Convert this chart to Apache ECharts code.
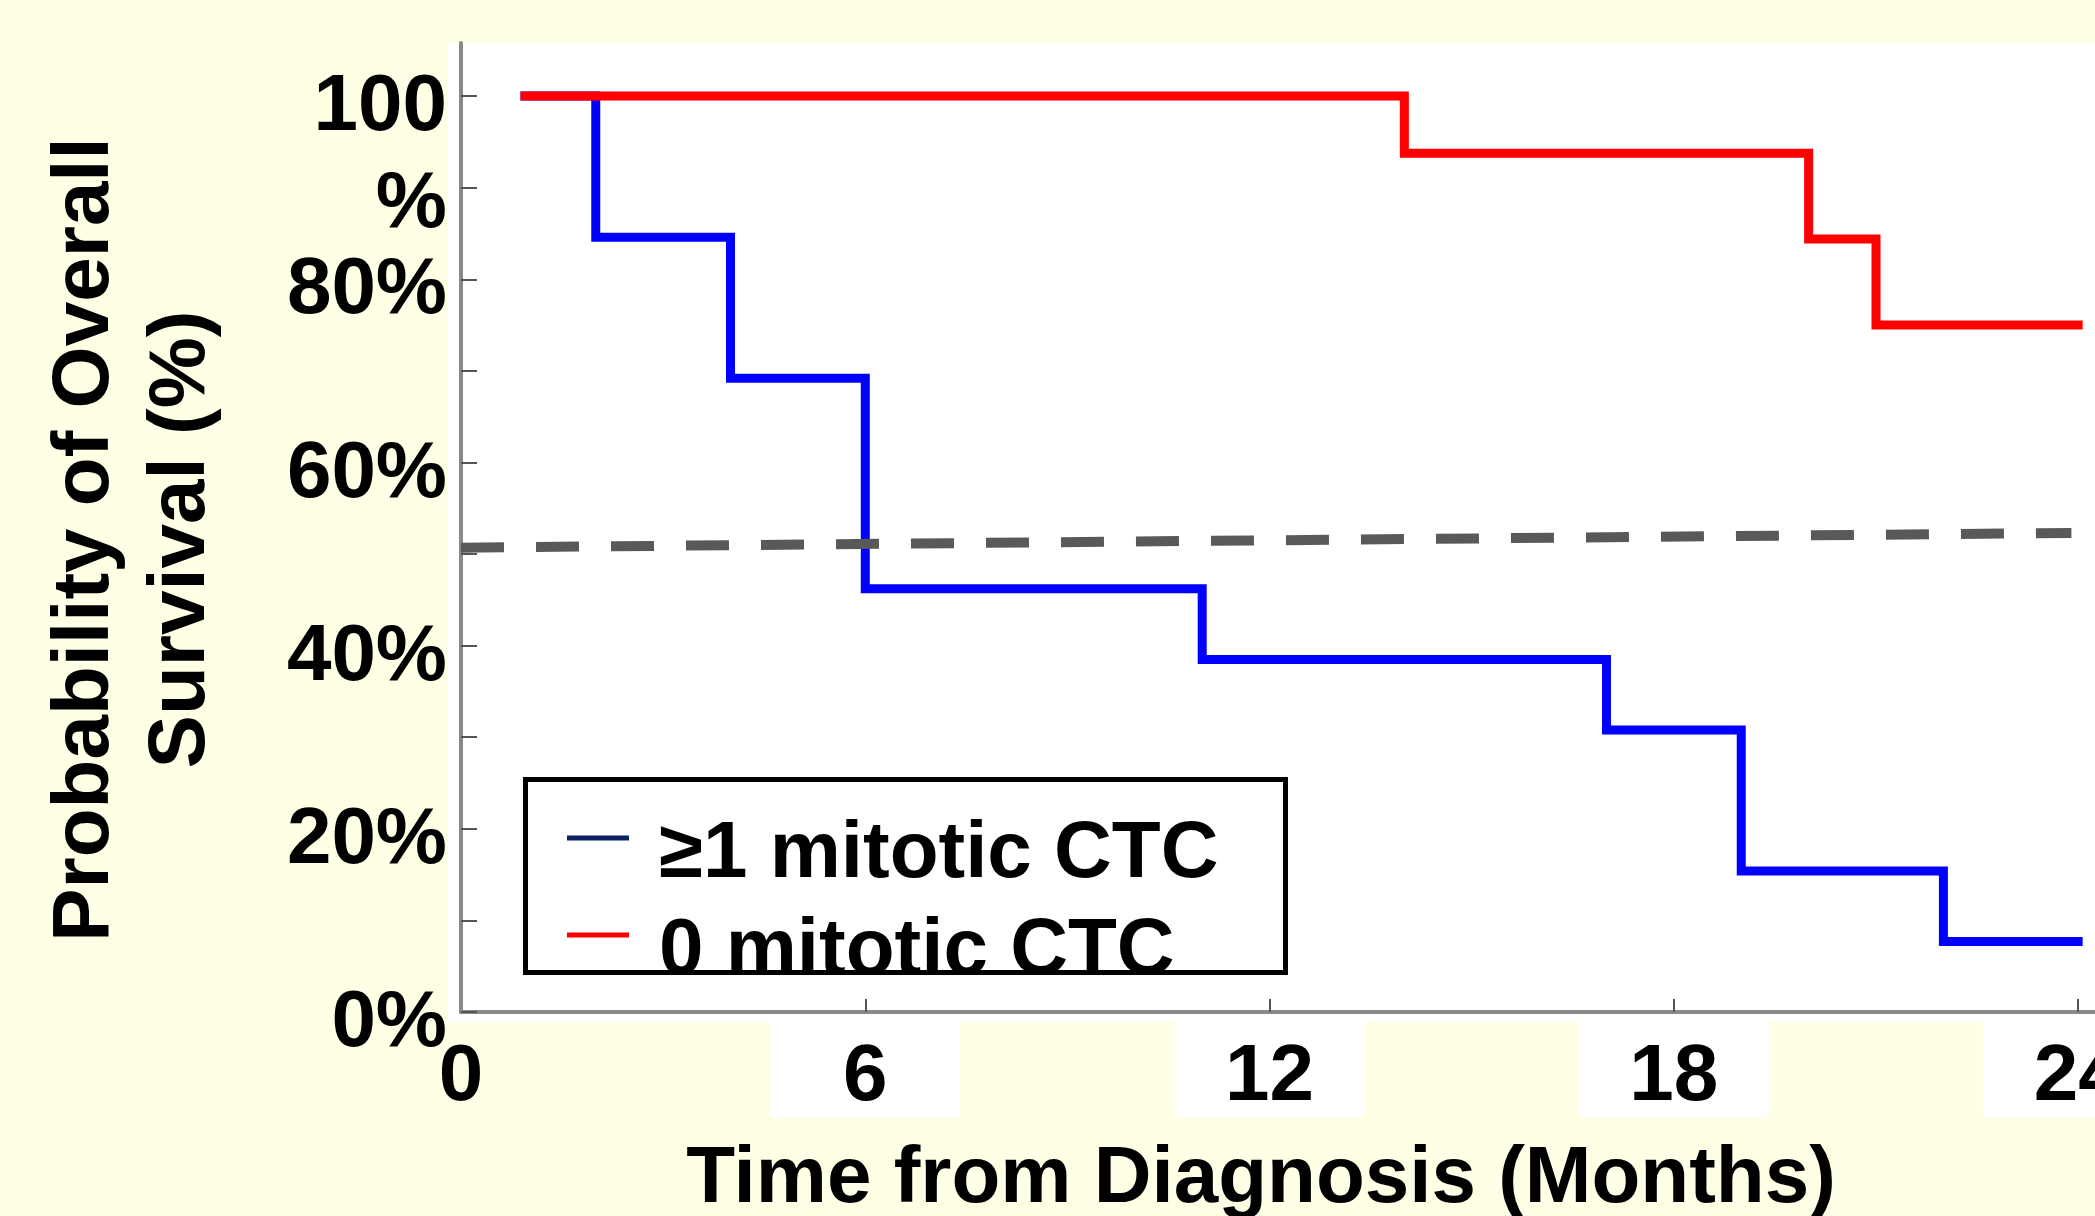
<!DOCTYPE html>
<html>
<head>
<meta charset="utf-8">
<script src="https://cdn.jsdelivr.net/npm/echarts@6/dist/echarts.min.js"></script>
<style>
html,body{margin:0;padding:0;background:#FFFFE6;}
#c{width:2095px;height:1216px;}
</style>
</head>
<body>
<div id="c"></div>
<script>
// ---- data ----
const seriesNames = ['≥1 mitotic CTC', '0 mitotic CTC'];
const mitoticMonths = [0.95, 2, 4, 6, 11, 17, 19, 22, 24];
const mitoticSurvival = [100, 84.6, 69.2, 46.2, 38.5, 30.8, 15.4, 7.7, 7.7];
const noMitoticMonths = [0.95, 14, 20, 21, 24];
const noMitoticSurvival = [100, 93.75, 84.4, 75.0, 75.0];
const medianMonths = [0, 23.9];
const medianSurvival = [50.7, 52.3];
const xTickValues = [6, 12, 18, 24];
const xLabelValues = [0, 6, 12, 18, 24];
const yTickValues = [0, 10, 20, 30, 40, 50, 60, 70, 80, 90, 100];
const yLabelValues = [0, 20, 40, 60, 80, 100];
const xTitle = 'Time from Diagnosis (Months)';
const yTitle = 'Probability of Overall\nSurvival (%)';

const FONT = "'Liberation Sans', Arial, sans-serif";
const zip = (xs, ys) => xs.map((x, i) => [x, ys[i]]);

const chart = echarts.init(document.getElementById('c'), null, {renderer: 'canvas'});
const txt = (size, lh) => ({fontSize: size, fontWeight: 'bold', fontFamily: FONT, color: '#000', lineHeight: lh});

chart.setOption({
  backgroundColor: '#FFFFE6',
  animation: false,
  graphic: {
    elements: [{
      type: 'rect', z: -100, silent: true,
      shape: {x: 448, y: 43, width: 1647, height: 979},
      style: {fill: '#FFFFFF'}
    }]
  },
  grid: {left: 461, top: 43, right: 0, bottom: 204, containLabel: false, outerBoundsMode: 'none'},
  legend: {
    orient: 'vertical',
    left: 525.5, top: 779.5,
    padding: [1.5, 67, -19.5, 41.5],
    itemGap: -17,
    itemWidth: 62, itemHeight: 5,
    icon: 'rect',
    borderColor: '#000', borderWidth: 5, backgroundColor: '#fff',
    data: [
      {name: seriesNames[0], itemStyle: {color: '#0B2263', borderWidth: 0}},
      {name: seriesNames[1], itemStyle: {color: '#FF0000', borderWidth: 0}}
    ],
    formatter: name => '{t|' + name + '}',
    textStyle: Object.assign(txt(80, 60), {
      rich: {t: Object.assign(txt(80, 60), {padding: [34, 0, 0, 25]})}
    })
  },
  xAxis: {
    type: 'value', min: 0, max: 24.25,
    name: xTitle, nameLocation: 'middle', nameGap: 128,
    nameTextStyle: Object.assign(txt(80, 80), {padding: [0, 34, 0, 0]}),
    axisLine: {show: true, lineStyle: {color: '#8a8a8a', width: 4}},
    axisTick: {show: true, inside: true, length: 13, customValues: xTickValues, lineStyle: {color: '#555', width: 2}},
    splitLine: {show: false},
    axisLabel: {
      customValues: xLabelValues, margin: 16,
      formatter: v => v === 0 ? '{z|0}' : '{b|' + v + '}',
      rich: {
        z: Object.assign(txt(80, 79), {padding: [20, 0, 0, 0], width: 190, align: 'center'}),
        b: Object.assign(txt(80, 79), {padding: [20, 0, 0, 0], width: 190, align: 'center', backgroundColor: '#FFFFFF'})
      }
    }
  },
  yAxis: {
    type: 'value', min: 0, max: 105.8,
    name: yTitle, nameLocation: 'middle', nameRotate: 90, nameGap: 231,
    nameTextStyle: Object.assign(txt(80, 96), {padding: [0, 24, 0, 0], align: 'center'}),
    axisLine: {show: true, lineStyle: {color: '#8a8a8a', width: 4}},
    axisTick: {show: true, inside: true, length: 16, customValues: yTickValues, lineStyle: {color: '#555', width: 2}},
    splitLine: {show: false},
    axisLabel: {
      customValues: yLabelValues, margin: 14, verticalAlign: 'top',
      formatter: v => v === 100 ? '{a|100}\n{p|%}' : '{a|' + v + '%}',
      rich: {
        a: txt(80, 24),
        p: txt(80, 170)
      }
    }
  },
  series: [
    {
      name: seriesNames[0], type: 'line', step: 'end', symbol: 'none',
      data: zip(mitoticMonths, mitoticSurvival),
      lineStyle: {color: '#0000FF', width: 9, cap: 'square', join: 'miter'},
      itemStyle: {color: '#0000FF'}, z: 2
    },
    {
      name: seriesNames[1], type: 'line', step: 'end', symbol: 'none',
      data: zip(noMitoticMonths, noMitoticSurvival),
      lineStyle: {color: '#FF0000', width: 9, cap: 'square', join: 'miter'},
      itemStyle: {color: '#FF0000'}, z: 3
    },
    {
      name: 'median', type: 'line', symbol: 'none',
      data: zip(medianMonths, medianSurvival),
      lineStyle: {color: '#595959', width: 10, type: [43, 32], cap: 'butt'},
      z: 4, silent: true
    }
  ]
});
</script>
</body>
</html>
